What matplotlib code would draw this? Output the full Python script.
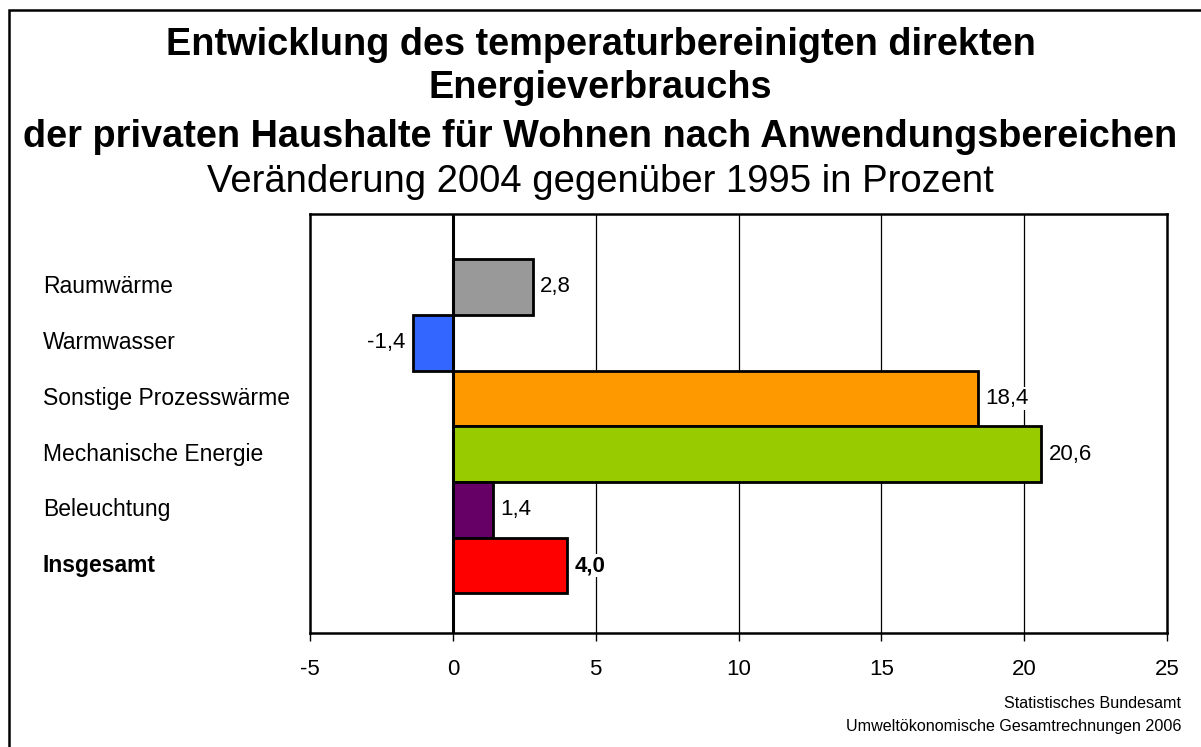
import matplotlib.pyplot as plt
import matplotlib.patches as mpatches

# data
categories = ['Raumwärme', 'Warmwasser', 'Sonstige Prozesswärme',
              'Mechanische Energie', 'Beleuchtung', 'Insgesamt']
values = [2.8, -1.4, 18.4, 20.6, 1.4, 4.0]
value_labels = ['2,8', '-1,4', '18,4', '20,6', '1,4', '4,0']
colors = ['#999999', '#3366ff', '#ff9900', '#99cc00', '#660066', '#ff0000']
x_ticks = [-5, 0, 5, 10, 15, 20, 25]

plt.rcParams['font.family'] = ['Liberation Sans', 'DejaVu Sans']

W, H = 1201, 747
fig = plt.figure(figsize=(W / 100, H / 100), dpi=100)

# frame round the whole figure (right and bottom edges fall outside the image)
fig.patches.append(mpatches.Rectangle((9 / W, -20 / H), 1250 / W, (H - 10 + 20) / H,
                                      transform=fig.transFigure, fill=False,
                                      edgecolor='black', linewidth=1.8))

# title lines
fig.text(0.5, 1 - 45 / H, 'Entwicklung des temperaturbereinigten direkten',
         ha='center', va='center', fontsize=27.3, fontweight='bold')
fig.text(0.5, 1 - 88 / H, 'Energieverbrauchs',
         ha='center', va='center', fontsize=27.3, fontweight='bold')
fig.text(0.5, 1 - 137 / H, 'der privaten Haushalte für Wohnen nach Anwendungsbereichen',
         ha='center', va='center', fontsize=27.3, fontweight='bold')
fig.text(0.5, 1 - 182 / H, 'Veränderung 2004 gegenüber 1995 in Prozent',
         ha='center', va='center', fontsize=27.5)

ax = fig.add_axes([310 / W, 1 - 633 / H, 857 / W, 419 / H])
pos = list(range(len(categories)))

ax.barh(pos, values, height=1.0, color=colors, edgecolor='black',
        linewidth=2.0, zorder=3)

ax.set_xlim(-5, 25)
ax.set_ylim(6.21, -1.31)
ax.set_xticks(x_ticks)
ax.set_xticklabels([str(t) for t in x_ticks], fontsize=16)
ax.set_yticks([])
ax.tick_params(axis='x', direction='out', length=6, width=1, pad=13)

# vertical gridlines and the zero line
for t in x_ticks[2:-1]:
    ax.axvline(t, color='black', linewidth=0.9, zorder=1)
ax.axvline(0, color='black', linewidth=2.2, zorder=4)

for sp in ax.spines.values():
    sp.set_linewidth(1.8)

# value labels next to the bars (white box hides the grid)
for i, (v, lab) in enumerate(zip(values, value_labels)):
    bold = categories[i] == 'Insgesamt'
    if v >= 0:
        ax.text(v + 0.25, i, lab, ha='left', va='center', fontsize=16,
                fontweight='bold' if bold else 'normal', zorder=5,
                bbox=dict(facecolor='white', edgecolor='none', pad=1))
    else:
        ax.text(v - 0.25, i, lab, ha='right', va='center', fontsize=16,
                zorder=5, bbox=dict(facecolor='white', edgecolor='none', pad=1))

# category labels, left aligned in the figure
for i, cat in enumerate(categories):
    y_data = ax.transData.transform((0, i))[1]
    fy = fig.transFigure.inverted().transform((0, y_data))[1]
    fig.text(43 / W, fy, cat, ha='left', va='center', fontsize=16.5,
             fontweight='bold' if cat == 'Insgesamt' else 'normal')

# source note
fig.text(1181 / W, 1 - 703 / H, 'Statistisches Bundesamt',
         ha='right', va='center', fontsize=11.6)
fig.text(1181 / W, 1 - 726 / H, 'Umweltökonomische Gesamtrechnungen 2006',
         ha='right', va='center', fontsize=11.6)

plt.savefig('out.png', dpi=100)
